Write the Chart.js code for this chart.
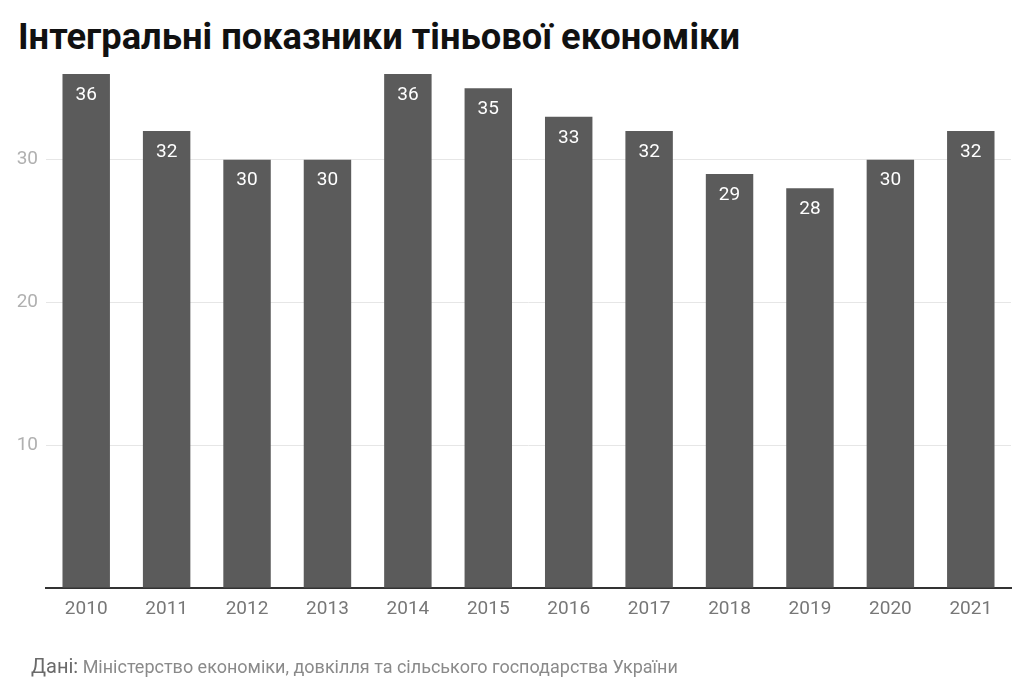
<!DOCTYPE html>
<html>
<head>
<meta charset="utf-8">
<script src="https://cdn.jsdelivr.net/npm/chart.js@4"></script>
<style>
  html, body { margin: 0; padding: 0; background: #fff; }
  body { width: 1024px; height: 697px; position: relative; overflow: hidden; font-family: Roboto, sans-serif; }
  #title { position: absolute; left: 18px; top: 16px; font-size: 36.3px; line-height: 42px; font-weight: 700; color: #111; white-space: nowrap; }
  #wrap { position: absolute; left: 0; top: 0; width: 1024px; height: 697px; }
  #source { position: absolute; left: 31px; top: 654px; font-size: 18px; color: #8a8a8a; white-space: nowrap; }
  #source b { font-weight: 400; font-size: 20px; color: #6a6a6a; }
</style>
</head>
<body>
<div id="title">Інтегральні показники тіньової економіки</div>
<div id="wrap"><canvas id="chart"></canvas></div>
<div id="source"><b>Дані:</b> Міністерство економіки, довкілля та сільського господарства України</div>
<script>
const years = ['2010', '2011', '2012', '2013', '2014', '2015', '2016', '2017', '2018', '2019', '2020', '2021'];
const shadowShare = [36, 32, 30, 30, 36, 35, 33, 32, 29, 28, 30, 32];
const yTicks = [10, 20, 30];

// white numbers inside the top of each bar
const barLabels = {
    id: 'barLabels',
    afterDatasetsDraw(chart) {
        const ctx = chart.ctx;
        const meta = chart.getDatasetMeta(0);
        ctx.save();
        ctx.fillStyle = '#fff';
        ctx.font = '19px Roboto';
        ctx.textAlign = 'center';
        ctx.textBaseline = 'middle';
        meta.data.forEach((bar, i) => {
            ctx.fillText(shadowShare[i], bar.x, bar.y + 21);
        });
        ctx.restore();
    }
};

new Chart(document.getElementById('chart'), {
    type: 'bar',
    data: {
        labels: years,
        datasets: [{
            data: shadowShare,
            backgroundColor: '#5b5b5b',
            categoryPercentage: 1,
            barPercentage: 0.59
        }]
    },
    options: {
        responsive: true,
        maintainAspectRatio: false,
        animation: false,
        layout: { padding: { top: 74, right: 13, left: 0, bottom: 0 } },
        plugins: {
            legend: { display: false },
            tooltip: { enabled: false }
        },
        scales: {
            x: {
                grid: { display: false, drawTicks: false },
                border: { color: '#333', width: 2 },
                ticks: { color: '#777', font: { family: 'Roboto', size: 19 }, padding: 10, maxRotation: 0 },
                afterFit(scale) { scale.height = 109; }
            },
            y: {
                min: 0,
                max: 36,
                afterBuildTicks(scale) {
                    scale.ticks = [0].concat(yTicks).map(v => ({ value: v }));
                },
                grid: { color: ctx => ctx.tick && ctx.tick.value === 0 ? 'rgba(0,0,0,0)' : '#e6e6e6', drawTicks: false },
                border: { display: false },
                ticks: {
                    color: '#b0b0b0',
                    font: { family: 'Roboto', size: 19 },
                    padding: 8,
                    callback: v => v === 0 ? '' : v
                },
                afterFit(scale) { scale.width = 46; }
            }
        }
    },
    plugins: [barLabels]
});
</script>
</body>
</html>
